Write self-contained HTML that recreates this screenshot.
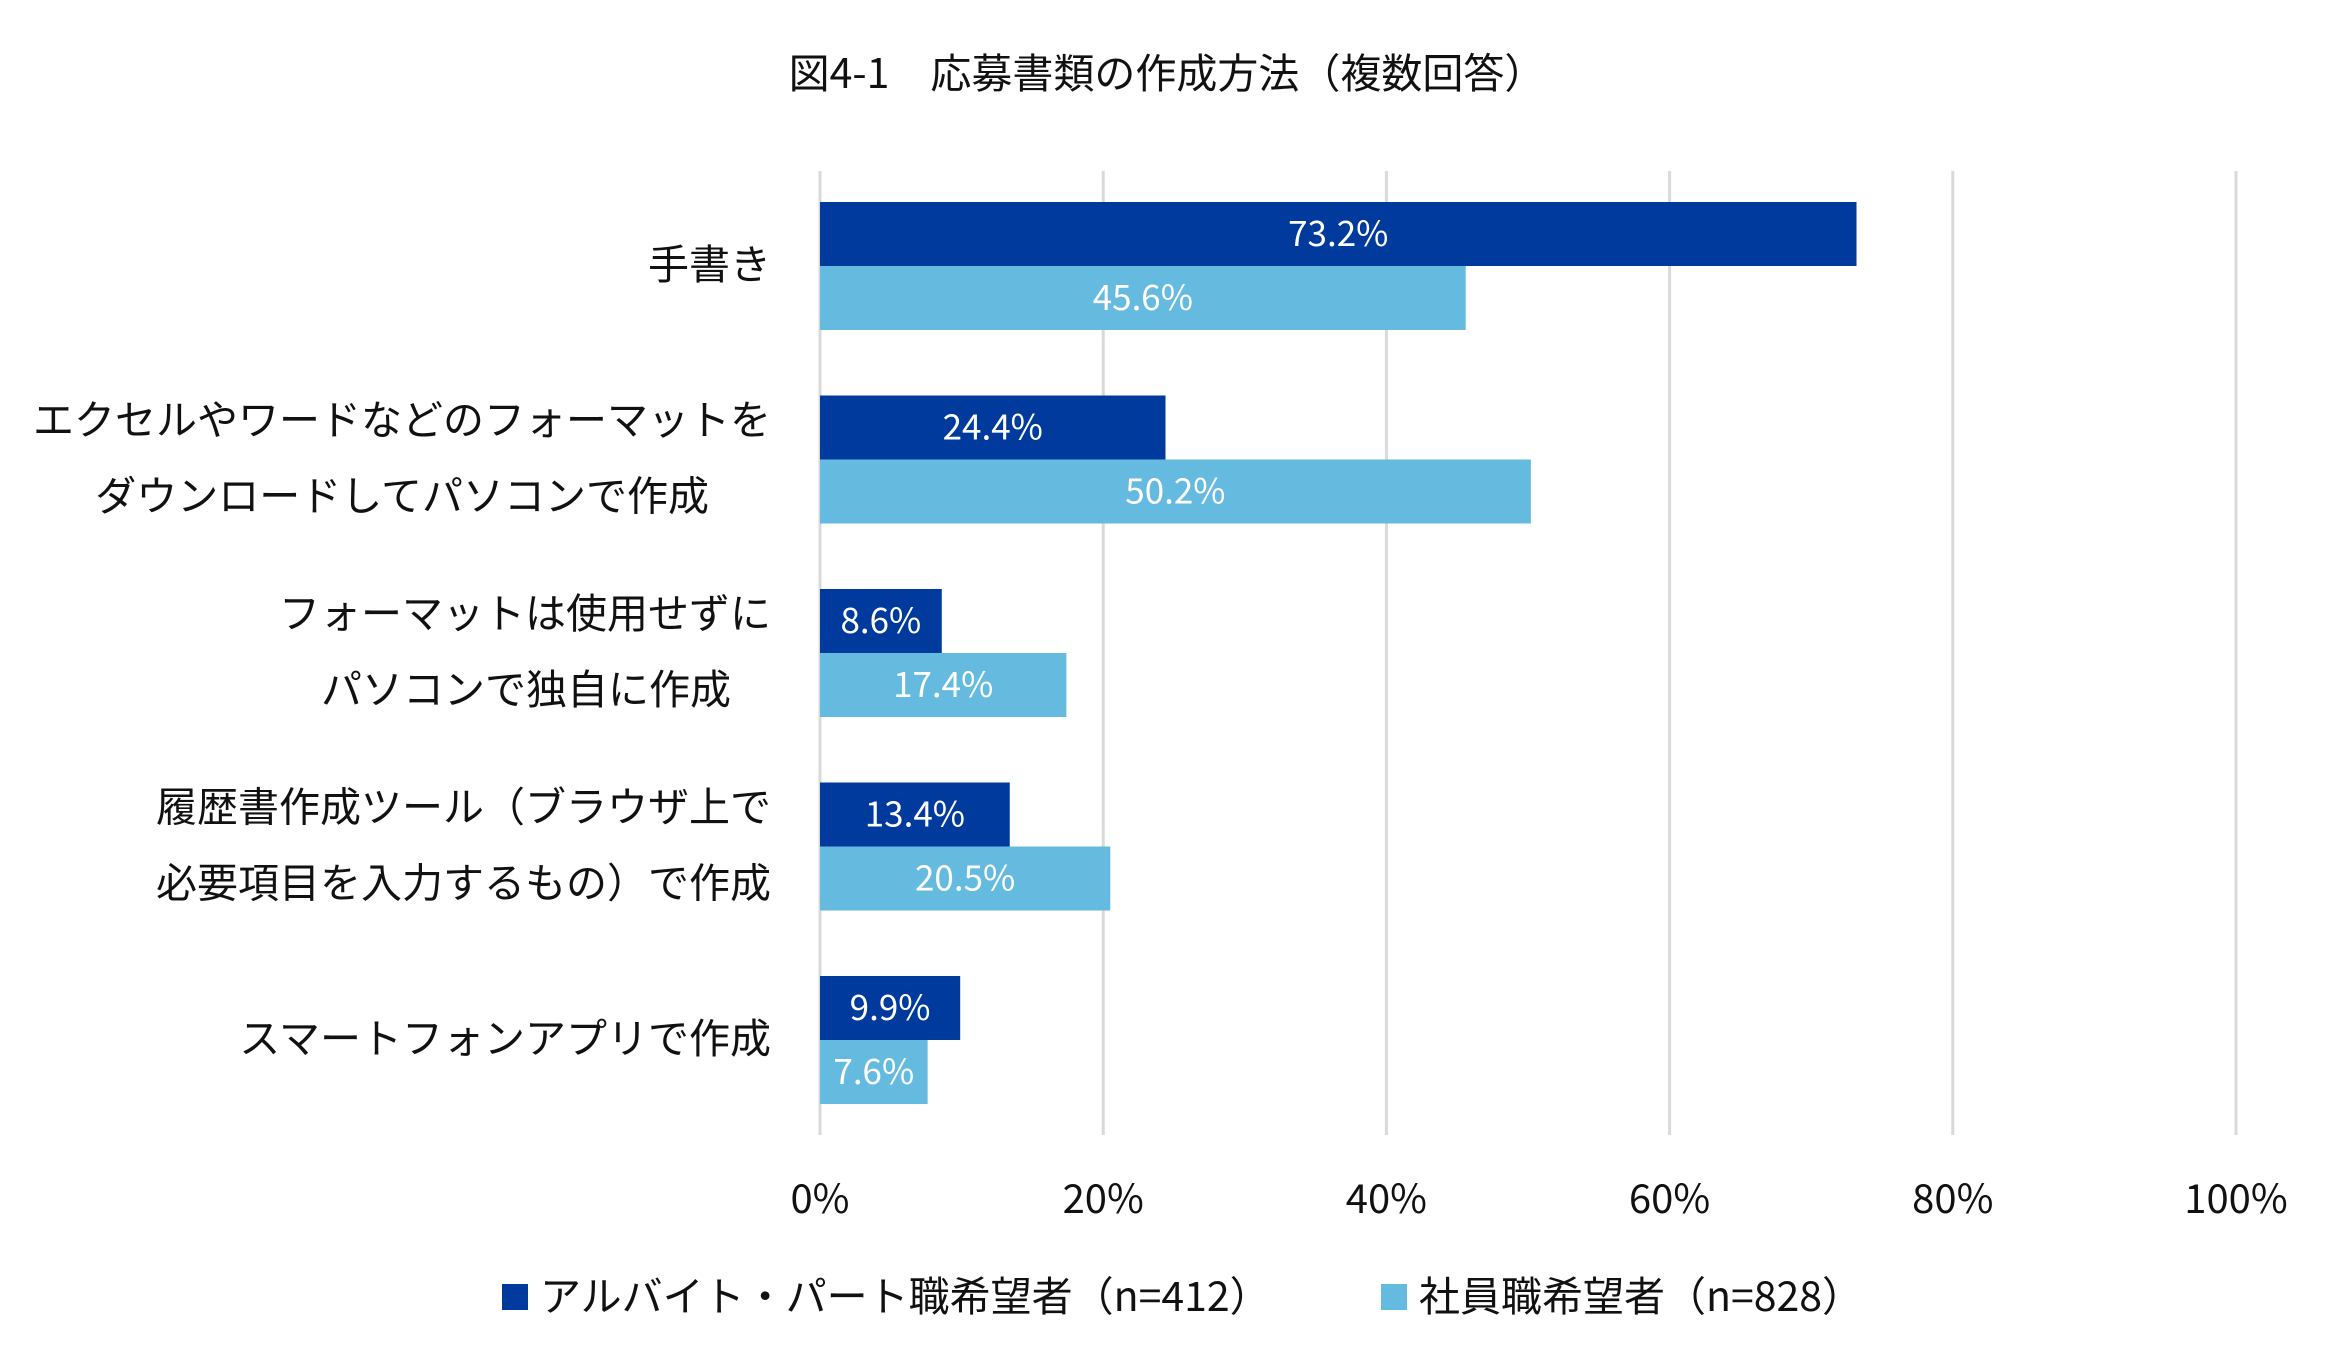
<!DOCTYPE html>
<html><head><meta charset="utf-8"><style>
body{margin:0;background:#fff;}
svg{display:block;font-family:"Noto Sans CJK JP","Liberation Sans",sans-serif;}
</style></head><body>
<svg id="chart" width="2339" height="1364" viewBox="0 0 2339 1364" xmlns="http://www.w3.org/2000/svg">
<text x="1167" y="88" font-size="41" text-anchor="middle" fill="#111">図4-1　応募書類の作成方法（複数回答）</text>
<g id="grid"></g>
<g id="bars"></g>
<g id="cats"></g>
<g>
<rect x="502" y="1284" width="26" height="26" fill="#003A9C"/>
<text x="540" y="1311" font-size="41" fill="#111">アルバイト・パート職希望者（n=412）</text>
<rect x="1381" y="1284" width="26" height="26" fill="#65BADF"/>
<text x="1419" y="1311" font-size="41" fill="#111">社員職希望者（n=828）</text>
</g>
</svg>
<script>
const categories = [["手書き"],["エクセルやワードなどのフォーマットを","ダウンロードしてパソコンで作成"],["フォーマットは使用せずに","パソコンで独自に作成"],["履歴書作成ツール（ブラウザ上で","必要項目を入力するもの）で作成"],["スマートフォンアプリで作成"]];
const partTime = [73.2,24.4,8.6,13.4,9.9];
const employee = [45.6,50.2,17.4,20.5,7.6];
const ticks = [0,20,40,60,80,100];
const lineRight = [[771],[771,709],[771,731],[771,771],[771]];

const NS="http://www.w3.org/2000/svg";
const x0=820,x1=2236,yTop=171,yBot=1135,g0=202,gStep=193.5,bh=64;
const xs=v=>x0+(x1-x0)*v/100;
function mk(tag,attrs,parent,txt){const e=document.createElementNS(NS,tag);for(const k in attrs)e.setAttribute(k,attrs[k]);if(txt!=null)e.textContent=txt;parent.appendChild(e);return e;}
const grid=document.getElementById('grid'),bars=document.getElementById('bars'),cats=document.getElementById('cats');
ticks.forEach(t=>{
  const l=mk('line',{x1:xs(t),x2:xs(t),y1:yTop,y2:yBot,stroke:'#d9d9d9','stroke-width':3},grid);
  
  
  const tx=mk('text',{x:xs(t),y:1213,'font-size':40,'text-anchor':'middle',fill:'#111'},grid,t+'%');
  
  
});
categories.forEach((c,i)=>{
  const top=g0+gStep*i;
  [[partTime[i],'#003A9C','part-time'],[employee[i],'#65BADF','employee']].forEach((s,j)=>{
    const y=top+j*bh;
    const r=mk('rect',{x:x0,y:y,width:xs(s[0])-x0,height:bh,fill:s[1]},bars);
    
    
    const t=mk('text',{x:(x0+xs(s[0]))/2,y:y+bh/2+12,'font-size':35,'text-anchor':'middle',fill:'#fff'},bars,s[0].toFixed(1)+'%');
    
    
  });
  const cy=top+bh;
  c.forEach((line,k)=>{
    const y=c.length===1?cy+13:cy+13+(k===0?-38:38);
    const t=mk('text',{x:lineRight[i][k],y:y,'font-size':41,'text-anchor':'end',fill:'#111'},cats,line);
    
    
  });
});
</script>
</body></html>
